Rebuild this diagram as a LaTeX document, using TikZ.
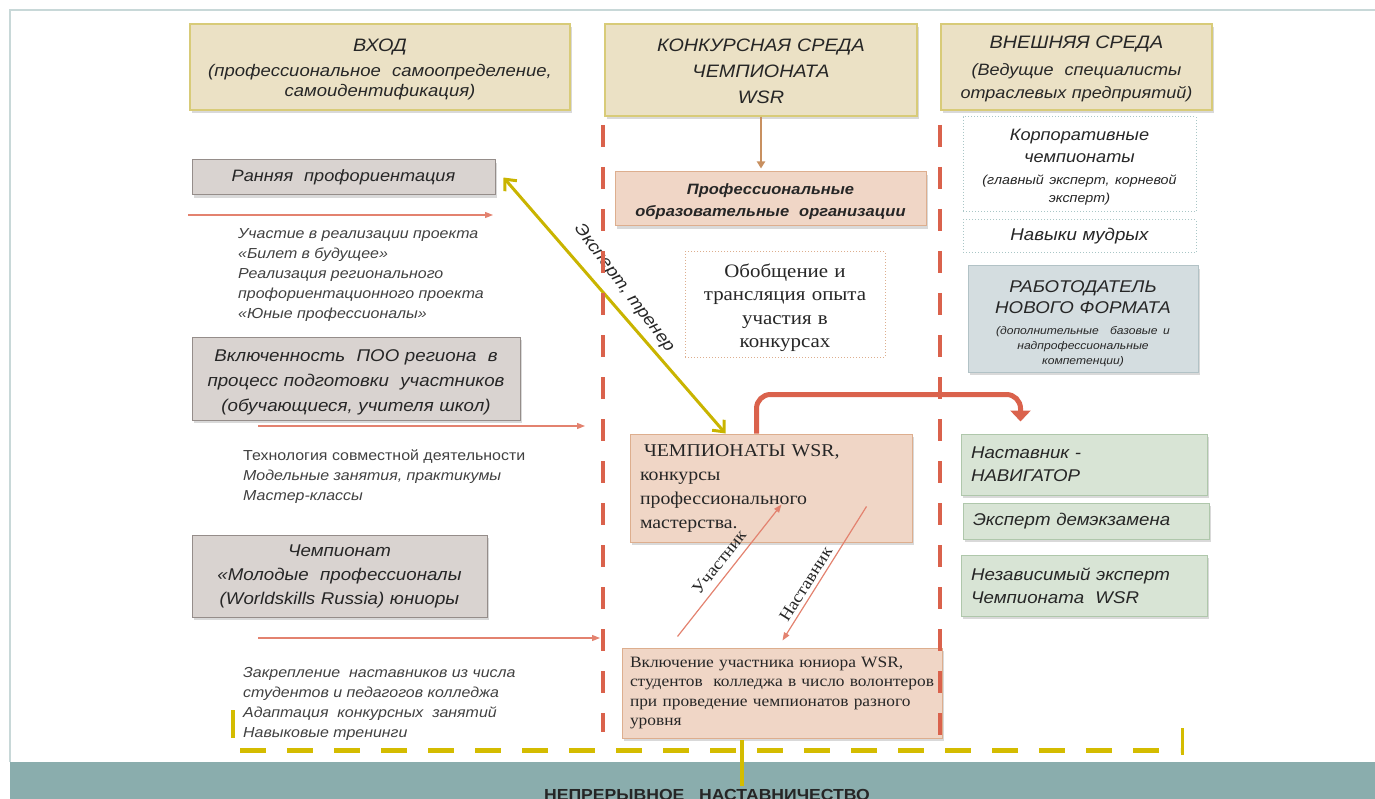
\documentclass[tikz,border=0pt]{standalone}
\usepackage{fontspec}
\setmainfont{Liberation Sans}[FakeStretch=1.1]
\newfontfamily\serifface{Liberation Serif}[FakeStretch=1.1]
\usetikzlibrary{arrows.meta,shadows}

\definecolor{hdrfill}{HTML}{EBE1C5}
\definecolor{hdrline}{HTML}{D8CB78}
\definecolor{greyfill}{HTML}{D9D3D0}
\definecolor{greyline}{HTML}{958D8A}
\definecolor{peach}{HTML}{F0D6C6}
\definecolor{peachline}{HTML}{DDAE8E}
\definecolor{redline}{HTML}{DA624C}
\definecolor{thinred}{HTML}{E3826F}
\definecolor{olive}{HTML}{C9B400}
\definecolor{dashyellow}{HTML}{D4BC00}
\definecolor{brownarr}{HTML}{C89060}
\definecolor{bandteal}{HTML}{8AADAD}
\definecolor{framegrey}{HTML}{C8D8D8}
\definecolor{greenfill}{HTML}{D8E4D5}
\definecolor{greenline}{HTML}{AFC7AB}
\definecolor{bluefill}{HTML}{D4DDE0}
\definecolor{blueline}{HTML}{B2C2C6}
\definecolor{dotline}{HTML}{A9C6C6}
\definecolor{txt}{HTML}{262626}

\newcommand\hdrtitle{\fontsize{18}{20}\selectfont}
\newcommand\smallnote{\fontsize{13}{18}\selectfont}
\newcommand\topstrut[1]{\rule{0pt}{#1}}

\tikzset{
  box/.style={draw, line width=1pt, inner sep=0pt, align=center, text=txt},
  shadebox/.style={box, drop shadow={shadow xshift=2pt, shadow yshift=-3pt, opacity=0.25, fill=black!60}},
  hdrbox/.style={shadebox, fill=hdrfill, draw=hdrline, line width=1.5pt, font=\fontsize{16.8}{20}\selectfont\itshape},
  greybox/.style={shadebox, fill=greyfill, draw=greyline, font=\fontsize{17}{25}\selectfont\itshape},
  peachbox/.style={shadebox, fill=peach, draw=peachline},
  dotbox/.style={box, draw=dotline, dotted, fill=white},
  greenbox/.style={shadebox, fill=greenfill, draw=greenline, align=left, inner xsep=10pt, font=\fontsize{17}{23}\selectfont\itshape},
  note/.style={anchor=north west, inner sep=0pt, align=left, text=black!75, font=\fontsize{14.5}{20}\selectfont\itshape},
  thinarrow/.style={draw=thinred, line width=1.2pt, -{Triangle[length=8pt,width=6pt]}},
  seriflabel/.style={inner sep=0pt, text=txt, font=\serifface\fontsize{17}{20}\selectfont},
  olivearrow/.style={draw=olive, line width=3pt, {Straight Barb[length=9pt,width=16pt]}-{Straight Barb[length=9pt,width=16pt]}},
  bigred/.style={draw=redline, line width=5pt, rounded corners=14pt, -{Triangle[length=11pt,width=20pt]}},
  reddash/.style={draw=redline, line width=4.5pt, dash pattern=on 22pt off 20pt},
  yellowbar/.style={draw=dashyellow, line width=4pt}
}

\begin{document}
\begin{tikzpicture}[x=1pt,y=-1pt]
  \useasboundingbox (0,0) rectangle (1375,799);

  % frame and band
  \fill[bandteal] (10,762) rectangle (1380,810);
  \draw[framegrey, line width=1.5pt] (10,762) -- (10,10) -- (1380,10);
  \node[font=\fontsize{16}{19}\selectfont\bfseries, text=black!85, anchor=base, inner sep=0pt] (nepr) at (707,800) {НЕПРЕРЫВНОЕ\ \ \ НАСТАВНИЧЕСТВО};

  % headers
  \node[hdrbox, text width=380pt, minimum height=86pt] (vhod) at (380,67)
    {{\hdrtitle\topstrut{18pt}ВХОД}\\[5pt](профессиональное\ \ самоопределение,\\самоидентификация)};
  \node[hdrbox, text width=312pt, minimum height=92pt, font=\fontsize{18}{26}\selectfont\itshape] (konk) at (761,70)
    {\topstrut{15pt}КОНКУРСНАЯ СРЕДА\\ЧЕМПИОНАТА\\WSR};
  \node[hdrbox, text width=271pt, minimum height=86pt, font=\fontsize{16.4}{23}\selectfont\itshape] (vnesh) at (1076.5,67)
    {{\hdrtitle\topstrut{16pt}ВНЕШНЯЯ СРЕДА}\\[4pt](Ведущие\ \ специалисты\\отраслевых предприятий)};

  % left column
  \node[greybox, text width=303pt, minimum height=35pt, font=\fontsize{16.5}{20}\selectfont\itshape] (ran) at (343.5,177.5) {Ранняя\ \ профориентация};
  \node[greybox, text width=328pt, minimum height=83pt] (vkl) at (356,378.5)
    {\topstrut{20pt}Включенность\ \ ПОО региона\ \ в\\процесс подготовки\ \ участников\\(обучающиеся, учителя школ)};
  \node[greybox, text width=295pt, minimum height=82pt, font=\fontsize{17}{24}\selectfont\itshape] (chmp) at (339.5,576)
    {Чемпионат\\«Молодые\ \ профессионалы\\(Worldskills Russia) юниоры};

  \node[note] (n1) at (238,228) {Участие в реализации проекта\\«Билет в будущее»\\Реализация регионального\\профориентационного проекта\\«Юные профессионалы»};
  \node[note] (n2) at (243,450) {{\upshape Технология совместной деятельности}\\Модельные занятия, практикумы\\Мастер-классы};
  \node[note] (n3) at (243,667) {Закрепление\ \ наставников из числа\\студентов и педагогов колледжа\\Адаптация\ \ конкурсных\ \ занятий\\Навыковые тренинги};

  \draw[thinarrow] (188,215) -- (493,215);
  \draw[thinarrow] (258,426) -- (585,426);
  \draw[thinarrow] (258,638) -- (600,638);

  % middle column
  \node[peachbox, text width=311pt, minimum height=54pt, font=\fontsize{15}{22}\selectfont\bfseries\itshape] (prof) at (770.5,199)
    {\topstrut{16pt}Профессиональные\\образовательные\ \ организации};
  \node[dotbox, draw=peachline, text width=200pt, minimum height=105pt, font=\serifface\fontsize{19}{23.5}\selectfont] (obob) at (785,304.5)
    {\topstrut{20pt}Обобщение и\\трансляция опыта\\участия в\\конкурсах};
  \node[peachbox, text width=262pt, inner xsep=10pt, minimum height=108pt, align=left, font=\serifface\fontsize{18}{24}\selectfont] (champs) at (771,488)
    {\hspace*{4pt}ЧЕМПИОНАТЫ WSR,\\конкурсы\\профессионального\\мастерства.};
  \node[peachbox, text width=304pt, inner xsep=8pt, minimum height=90pt, align=left, font=\serifface\fontsize{15.8}{19.5}\selectfont] (vkluch) at (782,693)
    {Включение участника юниора WSR,\\студентов\ \ колледжа в число волонтеров\\при проведение чемпионатов разного\\уровня};

  % right column
  \node[dotbox, text width=233pt, minimum height=95pt, font=\fontsize{16.5}{22}\selectfont\itshape] (korp) at (1079.5,164.5)
    {\topstrut{17pt}Корпоративные\\чемпионаты\\{\smallnote(главный эксперт, корневой}\\[-4pt]{\smallnote эксперт)}};
  \node[dotbox, text width=233pt, minimum height=33pt, font=\fontsize{17}{22}\selectfont\itshape] (navyki) at (1079.5,236.5) {Навыки мудрых};
  \node[shadebox, fill=bluefill, draw=blueline, text width=230pt, minimum height=106pt, font=\fontsize{17}{21}\selectfont\itshape] (rabot) at (1083,319)
    {\topstrut{21pt}РАБОТОДАТЕЛЬ\\НОВОГО ФОРМАТА\par\vspace{6pt}{\fontsize{11}{15}\selectfont(дополнительные\ \ базовые и\\надпрофессиональные\\компетенции)\par}};
  \node[greenbox, text width=226pt, minimum height=61pt] (nastav) at (1084,464.5) {Наставник -\\НАВИГАТОР};
  \node[greenbox, text width=226pt, minimum height=36pt] (ekspdem) at (1086,521) {Эксперт демэкзамена};
  \node[greenbox, text width=226pt, minimum height=61pt] (nezav) at (1084,585.5) {Независимый эксперт\\Чемпионата\ \ WSR};

  % connectors
  \draw[draw=brownarr, line width=2.5pt, -{Triangle[length=7pt,width=8pt]}, shorten >=3pt] (konk.south) -- (konk.south |- prof.north);
  \draw[olivearrow] ([xshift=8pt]ran.east) -- node[pos=0.48, xshift=14pt, yshift=12pt, rotate=-53, inner sep=0pt, text=txt, font=\fontsize{17}{19}\selectfont\itshape] {Эксперт, тренер} ([xshift=96pt]champs.north west);
  \draw[bigred] ([xshift=127pt]champs.north west) -- ++(0,-39) -| ([xshift=60pt,yshift=12pt]nastav.north west);
  \draw[thinarrow] ([xshift=56pt,yshift=11pt]vkluch.north west) -- node[pos=0.5, sloped, above=7pt, seriflabel] {Участник} ([xshift=152pt,yshift=-71pt]champs.north west);
  \draw[thinarrow] ([xshift=237pt,yshift=-73pt]champs.north west) -- node[pos=0.62, sloped, above=4pt, seriflabel] {Наставник} ([xshift=161pt,yshift=7pt]vkluch.north west);

  % dashed borders
  \draw[reddash] (603,125) -- (603,732);
  \draw[reddash] (940,125) -- (940,742);
  \draw[dashyellow, line width=5pt, dash pattern=on 26pt off 21pt] (240,750) -- (1180,750);
  \draw[yellowbar] (233,710) -- (233,738);
  \draw[yellowbar, line width=3pt] (1182,728) -- (1182,755);
  \draw[yellowbar] (742,740) -- (742,786);
\end{tikzpicture}
\end{document}
